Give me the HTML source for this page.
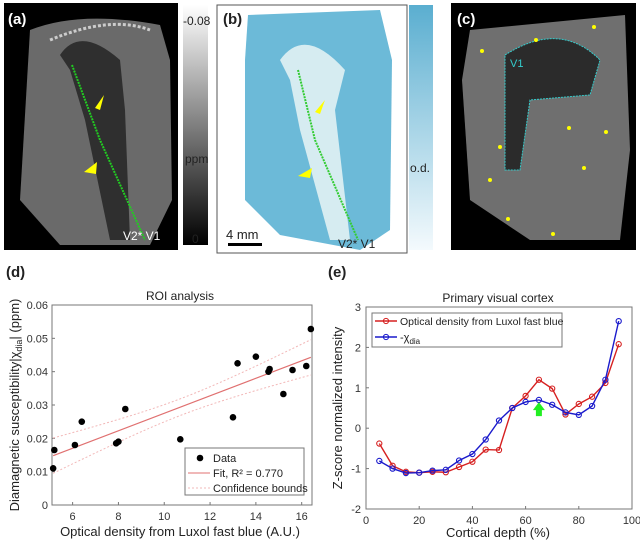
<!DOCTYPE html>
<html><head><meta charset="utf-8"><style>
body{margin:0;background:#fff;font-family:"Liberation Sans",sans-serif}
svg{display:block}
text{font-family:"Liberation Sans",sans-serif}
</style></head><body>
<svg id="fig" width="640" height="548" viewBox="0 0 640 548">
<defs>
<linearGradient id="gray" x1="0" y1="0" x2="0" y2="1"><stop offset="0" stop-color="#fff"/><stop offset="1" stop-color="#000"/></linearGradient>
<linearGradient id="blue" x1="0" y1="0" x2="0" y2="1"><stop offset="0" stop-color="#5aaed0"/><stop offset="1" stop-color="#f4fafd"/></linearGradient>
</defs>
<g>
<rect x="4" y="3" width="174" height="247" fill="#000"/>
<path d="M30 30 Q80 10 160 25 L170 60 L172 200 L150 245 L60 245 L20 200 Z" fill="#6a6a6a"/>
<path d="M60 55 Q80 25 120 60 L125 110 L130 240 L110 240 L85 120 L70 70 Z" fill="#2f2f2f"/>
<path d="M50 40 Q110 15 150 30" stroke="#ccc" stroke-width="3" fill="none" stroke-dasharray="3 2"/>
<path d="M72 65 L100 140 L145 240" stroke="#2c2" stroke-width="2" fill="none" stroke-dasharray="2 1"/>
<polygon points="104,95 95,108 100,110" fill="#ff0"/><polygon points="97,162 84,172 96,174" fill="#ff0"/>
<text x="8" y="24" font-size="15" font-weight="bold" fill="#fff">(a)</text>
<text x="123" y="240" font-size="12" fill="#fff">V2* V1</text>
</g>
<rect x="183" y="5" width="25" height="240" fill="url(#gray)"/>
<text x="183" y="25" font-size="12" fill="#222">-0.08</text>
<text x="185" y="163" font-size="12" fill="#222">ppm</text>
<text x="192" y="243" font-size="12" fill="#222">0</text>
<g>
<rect x="217" y="5" width="190" height="248" fill="#fff" stroke="#555"/>
<path d="M248 15 L380 10 L392 60 L390 230 L360 250 L280 235 L245 200 L245 60 Z" fill="#6cbad8"/>
<path d="M280 60 Q305 25 345 70 L335 110 L350 240 L330 240 L300 130 L290 80 Z" fill="#d6ecf1"/>
<path d="M298 70 L315 140 L358 240" stroke="#3c3" stroke-width="2" fill="none" stroke-dasharray="2 1"/>
<polygon points="325,100 315,112 320,114" fill="#ff0"/><polygon points="312,168 298,176 310,178" fill="#ff0"/>
<text x="223" y="24" font-size="15" font-weight="bold" fill="#222">(b)</text>
<text x="226" y="239" font-size="13" fill="#222">4 mm</text>
<rect x="228" y="243" width="34" height="3" fill="#000"/>
<text x="338" y="248" font-size="12" fill="#222">V2* V1</text>
</g>
<rect x="409" y="5" width="24" height="245" fill="url(#blue)"/>
<text x="410" y="172" font-size="12" fill="#222">o.d.</text>
<g>
<rect x="451" y="3" width="185" height="247" fill="#000"/>
<path d="M470 30 L625 15 L630 150 L620 240 L530 240 L470 200 L462 80 Z" fill="#6f6f6f"/>
<path d="M505 55 Q560 20 600 60 L590 95 L530 100 L520 170 L505 170 Z" fill="#2b2b2b" stroke="#3cc" stroke-dasharray="2 1"/>
<g fill="#ff0"><circle cx="594" cy="27" r="2"/><circle cx="536" cy="40" r="2"/><circle cx="482" cy="51" r="2"/><circle cx="569" cy="128" r="2"/><circle cx="606" cy="132" r="2"/><circle cx="500" cy="147" r="2"/><circle cx="584" cy="168" r="2"/><circle cx="490" cy="180" r="2"/><circle cx="508" cy="219" r="2"/><circle cx="553" cy="234" r="2"/></g>
<text x="457" y="24" font-size="15" font-weight="bold" fill="#fff">(c)</text>
<text x="510" y="67" font-size="11" fill="#3cc">V1</text>
</g>
<text x="6" y="277" font-size="15" font-weight="bold" fill="#222">(d)</text>
<text x="328" y="277" font-size="15" font-weight="bold" fill="#222">(e)</text>
<g id="d"></g>
<g id="e"></g>
</svg>
<script>
const dX=[5.15,5.2,6.1,6.4,7.9,8.0,8.3,10.7,13.0,13.2,14.0,14.55,14.6,15.2,15.6,16.2,16.4];
const dY=[0.011,0.0165,0.018,0.025,0.0185,0.019,0.0288,0.0197,0.0263,0.0425,0.0445,0.040,0.0408,0.0333,0.0405,0.0417,0.0528];
const fitEnds=[[5.15,0.0148],[16.4,0.0443]];
const dXTicks=[6,8,10,12,14,16];
const dYTicks=[0,0.01,0.02,0.03,0.04,0.05,0.06];
const eX=[5,10,15,20,25,30,35,40,45,50,55,60,65,70,75,80,85,90,95];
const eRed=[-0.38,-0.93,-1.08,-1.1,-1.08,-1.09,-0.96,-0.83,-0.53,-0.54,0.5,0.8,1.2,0.98,0.34,0.6,0.78,1.12,2.08];
const eBlue=[-0.81,-1.0,-1.11,-1.1,-1.05,-1.03,-0.8,-0.64,-0.28,0.19,0.5,0.65,0.7,0.58,0.39,0.33,0.55,1.2,2.65];
const eXTicks=[0,20,40,60,80,100];
const eYTicks=[-2,-1,0,1,2,3];
const NS="http://www.w3.org/2000/svg";
function mk(p,t,a,txt){const e=document.createElementNS(NS,t);for(const k in a)e.setAttribute(k,a[k]);if(txt!=null)e.textContent=txt;p.appendChild(e);return e;}
(function(){
const g=document.getElementById('d');
const L=52,R=312,T=305,B=505;
const sx=v=>L+(v-5.1)/(16.45-5.1)*(R-L), sy=v=>B-v/0.06*(B-T);
mk(g,'rect',{x:L,y:T,width:R-L,height:B-T,fill:'#fff',stroke:'#777'});
dXTicks.forEach(v=>{mk(g,'line',{x1:sx(v),x2:sx(v),y1:B,y2:B-3,stroke:'#777'});const t=mk(g,'text',{x:sx(v),y:B+15,'font-size':11,'text-anchor':'middle',fill:'#333'},v);});
dYTicks.forEach(v=>{mk(g,'line',{x1:L,x2:L+3,y1:sy(v),y2:sy(v),stroke:'#777'});const t=mk(g,'text',{x:L-4,y:sy(v)+4,'font-size':11,'text-anchor':'end',fill:'#333'},v===0?'0':v.toFixed(2));});
mk(g,'text',{x:180,y:300,'font-size':12,'text-anchor':'middle',fill:'#222'},'ROI analysis');
mk(g,'text',{x:180,y:536,'font-size':13,'text-anchor':'middle',fill:'#222'},'Optical density from Luxol fast blue (A.U.)');
const yl=mk(g,'text',{x:0,y:0,'font-size':13,'text-anchor':'middle',fill:'#222',transform:'translate(19,405) rotate(-90)'});
mk(yl,'tspan',{},'Diamagnetic susceptibility|χ');mk(yl,'tspan',{'font-size':9,dy:3},'dia');mk(yl,'tspan',{dy:-3},'| (ppm)');
const [a,b]=fitEnds;const slope=(b[1]-a[1])/(b[0]-a[0]);const xm=(a[0]+b[0])/2;
let up='',lo='';
for(let i=0;i<=30;i++){const x=a[0]+(b[0]-a[0])*i/30;const y=a[1]+slope*(x-a[0]);const w=Math.sqrt(0.0025*0.0025+Math.pow((x-xm)/(b[0]-xm),2)*(0.0053*0.0053-0.0025*0.0025));up+=(i?'L':'M')+sx(x)+' '+sy(y+w);lo+=(i?'L':'M')+sx(x)+' '+sy(y-w);}
const cu=mk(g,'path',{d:up,stroke:'#f2b8b8',fill:'none','stroke-dasharray':'2 2'});
const cl=mk(g,'path',{d:lo,stroke:'#f2b8b8',fill:'none','stroke-dasharray':'2 2'});
const fl=mk(g,'line',{x1:sx(a[0]),y1:sy(a[1]),x2:sx(b[0]),y2:sy(b[1]),stroke:'#e07070','stroke-width':1.2});
dX.forEach((x,i)=>{const c=mk(g,'circle',{cx:sx(x),cy:sy(dY[i]),r:3.3,fill:'#000'});});
const lg=mk(g,'g',{});
mk(lg,'rect',{x:185,y:448,width:119,height:47,fill:'#fff',stroke:'#777'});
mk(lg,'circle',{cx:200,cy:458,r:3.3,fill:'#000'});mk(lg,'text',{x:213,y:462,'font-size':11,fill:'#222'},'Data');
mk(lg,'line',{x1:188,x2:210,y1:473,y2:473,stroke:'#e07070'});mk(lg,'text',{x:213,y:477,'font-size':11,fill:'#222'},'Fit, R² = 0.770');
mk(lg,'line',{x1:188,x2:210,y1:488,y2:488,stroke:'#f2b8b8','stroke-dasharray':'2 2'});mk(lg,'text',{x:213,y:492,'font-size':11,fill:'#222'},'Confidence bounds');
})();
(function(){
const g=document.getElementById('e');
const L=366,R=632,T=307,B=509;
const sx=v=>L+v/100*(R-L), sy=v=>B-(v+2)/5*(B-T);
mk(g,'rect',{x:L,y:T,width:R-L,height:B-T,fill:'#fff',stroke:'#777'});
eXTicks.forEach(v=>{mk(g,'line',{x1:sx(v),x2:sx(v),y1:B,y2:B-3,stroke:'#777'});const t=mk(g,'text',{x:sx(v),y:B+15,'font-size':11,'text-anchor':'middle',fill:'#333'},v);});
eYTicks.forEach(v=>{mk(g,'line',{x1:L,x2:L+3,y1:sy(v),y2:sy(v),stroke:'#777'});const t=mk(g,'text',{x:L-5,y:sy(v)+4,'font-size':11,'text-anchor':'end',fill:'#333'},v);});
mk(g,'text',{x:498,y:302,'font-size':12,'text-anchor':'middle',fill:'#222'},'Primary visual cortex');
mk(g,'text',{x:498,y:537,'font-size':13,'text-anchor':'middle',fill:'#222'},'Cortical depth (%)');
mk(g,'text',{x:0,y:0,'font-size':13,'text-anchor':'middle',fill:'#222',transform:'translate(342,408) rotate(-90)'},'Z-score normalized intensity');
[[eRed,'#d62020','red-series'],[eBlue,'#1a1acc','blue-series']].forEach(([ys,col,nm])=>{
const s=mk(g,'g',{});
mk(s,'polyline',{points:eX.map((x,i)=>sx(x)+','+sy(ys[i])).join(' '),fill:'none',stroke:col,'stroke-width':1.4});
eX.forEach((x,i)=>mk(s,'circle',{cx:sx(x),cy:sy(ys[i]),r:2.6,fill:'none',stroke:col,'stroke-width':1.1}));
});
const ax=sx(65),ay=sy(0.3);
const ar=mk(g,'polygon',{points:`${ax-3},${ay} ${ax+3},${ay} ${ax+3},${ay-6} ${ax+6},${ay-6} ${ax},${ay-14} ${ax-6},${ay-6} ${ax-3},${ay-6}`,fill:'#2e2'});

const lg=mk(g,'g',{});
mk(lg,'rect',{x:372,y:313,width:190,height:34,fill:'#fff',stroke:'#777'});
mk(lg,'line',{x1:375,x2:397,y1:321,y2:321,stroke:'#d62020','stroke-width':1.4});mk(lg,'circle',{cx:386,cy:321,r:2.6,fill:'none',stroke:'#d62020'});
mk(lg,'text',{x:400,y:325,'font-size':10.5,fill:'#222'},'Optical density from Luxol fast blue');
mk(lg,'line',{x1:375,x2:397,y1:337,y2:337,stroke:'#1a1acc','stroke-width':1.4});mk(lg,'circle',{cx:386,cy:337,r:2.6,fill:'none',stroke:'#1a1acc'});
const lt=mk(lg,'text',{x:400,y:341,'font-size':11,fill:'#222'});mk(lt,'tspan',{},'-χ');mk(lt,'tspan',{'font-size':8,dy:3},'dia');
})();
</script>
</body></html>
